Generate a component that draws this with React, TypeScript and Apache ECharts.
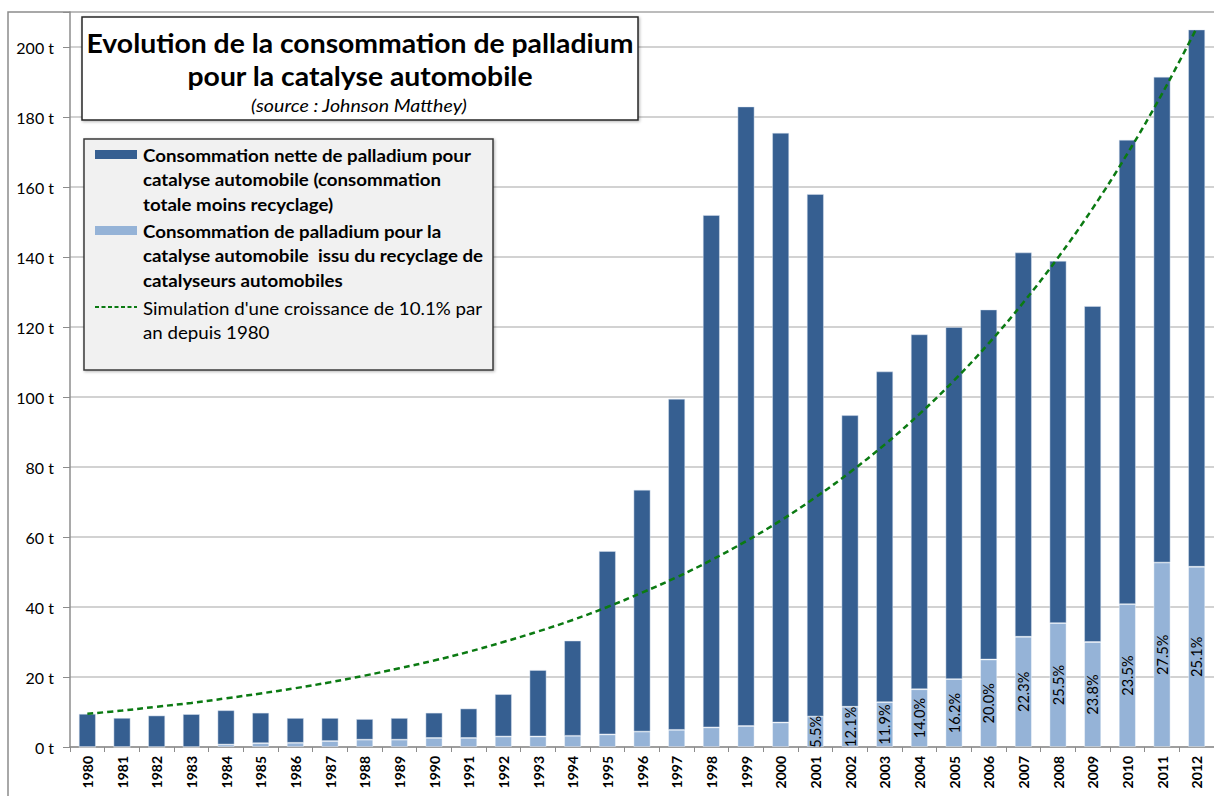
import React, { useEffect, useRef } from "react";
import * as echarts from "echarts";

const years = [
  "1980", "1981", "1982", "1983", "1984", "1985", "1986", "1987", "1988", "1989",
  "1990", "1991", "1992", "1993", "1994", "1995", "1996", "1997", "1998", "1999",
  "2000", "2001", "2002", "2003", "2004", "2005", "2006", "2007", "2008", "2009",
  "2010", "2011", "2012",
];

const totalConsumption = [
  9.5, 8.3, 9.0, 9.4, 10.5, 9.8, 8.3, 8.3, 8.0, 8.3,
  9.8, 11.0, 15.1, 22.0, 30.4, 56.0, 73.5, 99.5, 152.0, 183.0,
  175.5, 158.0, 94.8, 107.3, 117.9, 120.0, 125.0, 141.3, 138.9, 126.0,
  173.5, 191.5, 205.0,
];

// Part coming from recycling of autocatalysts (t)
const recycled = [
  0, 0, 0, 0, 0.7, 1.1, 1.2, 1.7, 2.1, 2.1,
  2.6, 2.6, 3.0, 3.0, 3.2, 3.6, 4.4, 4.9, 5.6, 6.0,
  7.0, 8.7, 11.5, 12.8, 16.5, 19.4, 25.0, 31.5, 35.4, 30.0,
  40.8, 52.7, 51.5,
];

// Share labels printed on the recycled part
const shareLabels = [
  "", "", "", "", "", "", "", "", "", "",
  "", "", "", "", "", "", "", "", "", "",
  "", "5.5%", "12.1%", "11.9%", "14.0%", "16.2%", "20.0%", "22.3%", "25.5%", "23.8%",
  "23.5%", "27.5%", "25.1%",
];

// Dashed simulation curve (t)
const growthSimulation = [
  9.5, 10.4, 11.5, 12.6, 13.9, 15.3, 16.8, 18.5, 20.4, 22.5,
  24.7, 27.2, 30.0, 33.0, 36.3, 40.0, 44.1, 48.5, 53.4, 58.8,
  64.7, 71.3, 78.5, 86.4, 95.1, 104.7, 115.3, 127.0, 139.8, 153.9,
  169.5, 186.6, 205.4,
];

const netConsumption = totalConsumption.map((t, i) => +(t - recycled[i]).toFixed(1));

const titleLines = ["Evolution de la consommation de palladium", "pour la catalyse automobile"];
const sourceText = "(source : Johnson Matthey)";
const legendNet = ["Consommation nette de palladium pour", "catalyse automobile (consommation", "totale moins recyclage)"];
const legendRec = ["Consommation de palladium pour la", "catalyse automobile  issu du recyclage de", "catalyseurs automobiles"];
const legendSim = ["Simulation d'une croissance de 10.1% par", "an depuis 1980"];

const DARK = "#365f91";
const LIGHT = "#95b3d7";
const GREEN = "#0b7a12";
const FONT = "Lato, 'Open Sans', sans-serif";

export default function App() {
  const ref = useRef<HTMLDivElement>(null);

  useEffect(() => {
    if (!ref.current) return;
    const chart = echarts.init(ref.current, undefined, { renderer: "svg" });

    const textEl = (x: number, y: number, text: string, font: string, align = "left", sx = 1) => ({
      type: "text",
      z: 110,
      x,
      y,
      scaleX: sx,
      style: { x: 0, y: 0, text, font, fill: "#000", textAlign: align, textVerticalAlign: "middle" },
    });

    const graphics: any[] = [
      {
        type: "rect",
        z: 0,
        silent: true,
        shape: { x: 8, y: 12, width: 1240, height: 820 },
        style: { fill: "none", stroke: "#8c8c8c", lineWidth: 1.5 },
      },
      {
        type: "rect",
        z: 100,
        shape: { x: 82, y: 17, width: 556, height: 103 },
        style: { fill: "#fff", stroke: "#262626", lineWidth: 1.5, shadowBlur: 3, shadowColor: "rgba(0,0,0,0.3)", shadowOffsetX: 1, shadowOffsetY: 1 },
      },
      textEl(360, 43, titleLines[0], `bold 27px ${FONT}`, "center", 1.05),
      textEl(360, 76, titleLines[1], `bold 27px ${FONT}`, "center", 1.05),
      textEl(359, 105, sourceText, `italic 17.5px ${FONT}`, "center", 1.12),
      {
        type: "rect",
        z: 100,
        shape: { x: 84, y: 139, width: 409, height: 231 },
        style: { fill: "#f1f1f1", stroke: "#3a3a3a", lineWidth: 1.5, shadowBlur: 3, shadowColor: "rgba(0,0,0,0.3)", shadowOffsetX: 1, shadowOffsetY: 1 },
      },
      { type: "rect", z: 110, shape: { x: 95, y: 150, width: 42, height: 9 }, style: { fill: DARK } },
      { type: "rect", z: 110, shape: { x: 95, y: 226, width: 42, height: 9 }, style: { fill: LIGHT } },
      {
        type: "line",
        z: 110,
        shape: { x1: 95, y1: 307, x2: 137, y2: 307 },
        style: { stroke: GREEN, lineWidth: 2, lineDash: [4, 2.5] },
      },
    ];
    legendNet.forEach((t, i) => graphics.push(textEl(143, 155 + i * 24.5, t, `bold 17px ${FONT}`, "left", 1.1)));
    legendRec.forEach((t, i) => graphics.push(textEl(143, 231 + i * 24.5, t, `bold 17px ${FONT}`, "left", 1.1)));
    legendSim.forEach((t, i) => graphics.push(textEl(143, 308 + i * 24.5, t, `17px ${FONT}`, "left", 1.1)));

    chart.setOption({
      animation: false,
      backgroundColor: "#fff",
      textStyle: { fontFamily: FONT },
      grid: { left: 70, top: 12, width: 1148, height: 735, containLabel: false },
      xAxis: {
        type: "category",
        data: years,
        axisLine: { show: true, lineStyle: { color: "#8c8c8c", width: 1.5 } },
        axisTick: { show: true, alignWithLabel: false, length: 5, lineStyle: { color: "#8c8c8c" } },
        axisLabel: {
          rotate: 90,
          margin: 9,
          color: "#000",
          fontWeight: "bold",
          fontSize: 14,
          fontFamily: FONT,
          interval: 0,
        },
      },
      yAxis: {
        type: "value",
        min: 0,
        max: 210,
        interval: 20,
        axisLine: { show: true, lineStyle: { color: "#8c8c8c", width: 1.5 } },
        axisTick: { show: true, length: 7, lineStyle: { color: "#8c8c8c" } },
        splitLine: { show: true, lineStyle: { color: "#c3c3c3", width: 1.5 } },
        axisLabel: {
          color: "#000",
          fontSize: 16,
          fontFamily: FONT,
          margin: 16,
          formatter: (v: number) => (v % 20 === 0 ? `${v} t` : ""),
        },
      },
      series: [
        {
          name: "Consommation de palladium pour la catalyse automobile issu du recyclage de catalyseurs automobiles",
          type: "bar",
          stack: "total",
          barWidth: 17,
          data: recycled,
          itemStyle: { color: LIGHT, borderColor: "rgba(255,255,255,0.5)", borderWidth: 0.8 },
          label: {
            show: true,
            position: "inside",
            rotate: 90,
            color: "#000",
            fontSize: 14.5,
            fontFamily: FONT,
            formatter: (p: any) => shareLabels[p.dataIndex],
          },
        },
        {
          name: "Consommation nette de palladium pour catalyse automobile (consommation totale moins recyclage)",
          type: "bar",
          stack: "total",
          barWidth: 17,
          data: netConsumption,
          itemStyle: { color: DARK, borderColor: "rgba(220,230,242,0.6)", borderWidth: 0.8 },
        },
        {
          name: "Simulation d'une croissance de 10.1% par an depuis 1980",
          type: "line",
          data: growthSimulation,
          smooth: 0.4,
          symbol: "none",
          z: 5,
          lineStyle: { color: GREEN, width: 2.5, type: [6, 4] },
        },
      ],
      graphic: graphics,
    });

    return () => chart.dispose();
  }, []);

  return (
    <div
      ref={ref}
      style={{ position: "fixed", left: 0, top: 0, width: 1214, height: 796 }}
    />
  );
}
